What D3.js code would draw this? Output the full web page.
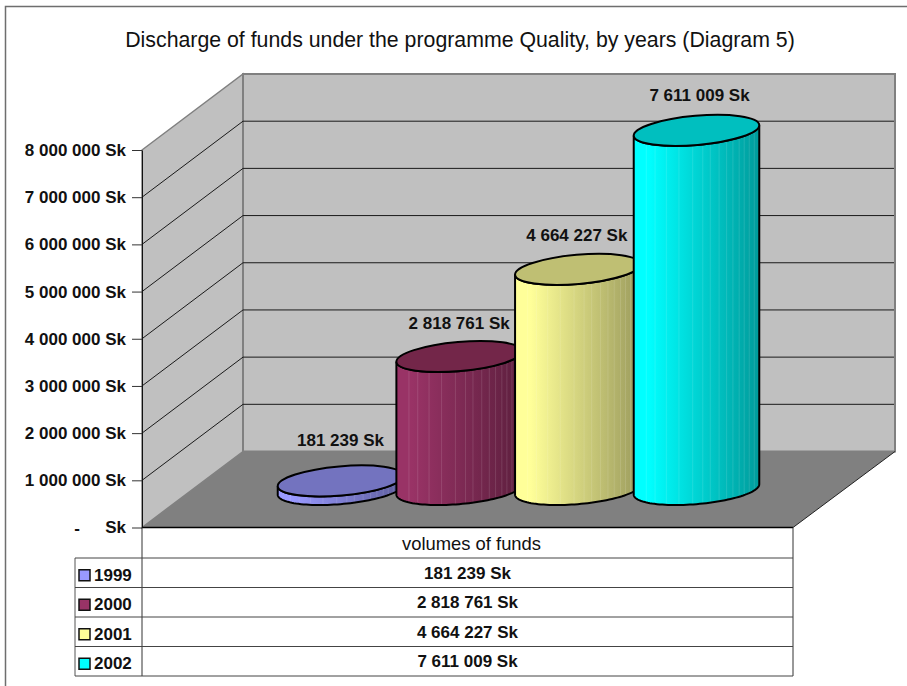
<!DOCTYPE html>
<html><head><meta charset="utf-8">
<script src="https://cdn.jsdelivr.net/npm/d3@7"></script>
<style>html,body{margin:0;padding:0;background:#fff}svg{display:block}text{font-family:"Liberation Sans",Arial,sans-serif;fill:#111}</style>
</head><body><script>
const years=["1999","2000","2001","2002"];
const values=[181239,2818761,4664227,7611009];
const valueLabels=["181 239 Sk","2 818 761 Sk","4 664 227 Sk","7 611 009 Sk"];
const colors=["#9999ff","#993366","#ffff99","#00ffff"];
const topColors=["#7373bf","#732649","#bfbf73","#00bfbf"];
const axisTicks=[0,1e6,2e6,3e6,4e6,5e6,6e6,7e6,8e6];
const tickLabels=["Sk","1 000 000 Sk","2 000 000 Sk","3 000 000 Sk","4 000 000 Sk","5 000 000 Sk","6 000 000 Sk","7 000 000 Sk","8 000 000 Sk"];
const titleText="Discharge of funds under the programme Quality, by years (Diagram 5)";
const seriesName="volumes of funds";

const W=907,H=686,X0=142,X1=793,DX=101,DY=76,FS=17;
const svg=d3.select("body").append("svg").attr("width",W).attr("height",H);
const y=d3.scaleLinear().domain([0,8e6]).range([527.5,150]);
const xp=d3.scalePoint().domain(years).range([340.5,696.5]);

// frame
svg.append("path").attr("d","M5.5,686V6.5H907").attr("fill","none").attr("stroke","#6e6e6e").attr("stroke-width",1.5);
svg.append("text").attr("x",460).attr("y",47).attr("text-anchor","middle").attr("font-size",21.3).attr("fill","#222").text(titleText);

// walls and floor
const poly=p=>"M"+p.map(d=>d.join(",")).join("L")+"Z";
const yTop=y(8e6),yBot=y(0);
svg.append("path").attr("d",poly([[X0,yTop],[X0+DX,yTop-DY],[X0+DX,yBot-DY],[X0,yBot]])).attr("fill","#c0c0c0").attr("stroke","#808080").attr("stroke-width",1.5);
svg.append("path").attr("d",poly([[X0+DX,yTop-DY],[X1+DX+1,yTop-DY],[X1+DX+1,yBot-DY],[X0+DX,yBot-DY]])).attr("fill","#c0c0c0").attr("stroke","#808080").attr("stroke-width",2);
svg.append("path").attr("d",poly([[X0,yBot],[X0+DX,yBot-DY],[X1+DX+1,yBot-DY],[X1,yBot]])).attr("fill","#808080");
svg.append("path").attr("d",`M${X1},${yBot}L${X1+DX+1},${yBot-DY}`).attr("stroke","#222").attr("fill","none");

// gridlines
const grid=svg.append("g").attr("fill","none").attr("stroke","#1a1a1a").attr("stroke-width",1);
axisTicks.slice(1,-1).forEach(t=>{
  grid.append("path").attr("d",`M${X0},${y(t)}L${X0+DX},${y(t)-DY}H${X1+DX}`);
});

// axis
const axis=d3.axisLeft(y).tickValues(axisTicks).tickSize(10).tickSizeOuter(0).tickPadding(6).tickFormat((d,i)=>tickLabels[i]);
const ag=svg.append("g").attr("transform",`translate(${X0},0)`).call(axis);
ag.select(".domain").attr("stroke","#111").attr("stroke-width",1);
ag.selectAll(".tick line").attr("stroke","#333");
ag.selectAll(".tick text").attr("font-size",FS).attr("font-weight","bold").attr("font-family",'"Liberation Sans",Arial,sans-serif').attr("fill","#111");
ag.append("text").attr("x",-65).attr("y",y(0)+6).attr("font-size",FS).attr("font-weight","bold").attr("text-anchor","middle").attr("fill","#111").text("-");

// cylinders
const defs=svg.append("defs");
const A=63,B=14.6,ANG=-5,th=ANG*Math.PI/180;
const tLeft=Math.PI-Math.atan2(B*Math.sin(th),A*Math.cos(th));
const ellipsePt=(cx,cy,t)=>[cx+A*Math.cos(t)*Math.cos(th)-B*Math.sin(t)*Math.sin(th),cy+A*Math.cos(t)*Math.sin(th)+B*Math.sin(t)*Math.cos(th)];
const line=d3.line();
const N=60;
const baseCy=y(0)-DY/2;
years.forEach((yr,i)=>{
  const g=defs.append("linearGradient").attr("id","g"+i);
  g.append("stop").attr("offset","0").attr("stop-color",colors[i]);
  g.append("stop").attr("offset","0.12").attr("stop-color",colors[i]);
  g.append("stop").attr("offset","1").attr("stop-color",d3.color(colors[i]).darker(1.4));
});
const stripeFracs=[.1,.17,.26,.36,.47,.55,.61,.68,.74,.79,.84,.88,.92,.96];
years.forEach((yr,i)=>{
  const cx=xp(yr),h=y(0)-y(values[i]),cyT=baseCy-h,cyB=baseCy;
  // bottom half: from left extreme through the front to the right extreme
  const front=d3.range(N+1).map(k=>ellipsePt(cx,cyB,tLeft-Math.PI*k/N));
  // top, front rim from right extreme back to left extreme
  const rim=d3.range(N+1).map(k=>ellipsePt(cx,cyT,tLeft-Math.PI+Math.PI*k/N));
  const d=line(front.concat(rim))+"Z";
  const L=front[0][0],R=front[N][0];
  const c=svg.append("g");
  c.append("path").attr("d",d).attr("fill",`url(#g${i})`);
  defs.append("clipPath").attr("id","c"+i).append("path").attr("d",d);
  c.append("g").attr("clip-path",`url(#c${i})`).selectAll("line").data(stripeFracs).join("line")
    .attr("x1",f=>L+f*(R-L)).attr("x2",f=>L+f*(R-L)).attr("y1",cyT-30).attr("y2",cyB+30)
    .attr("stroke","#fff").attr("stroke-opacity",.12);
  c.append("path").attr("d",d).attr("fill","none").attr("stroke","#000").attr("stroke-width",2);
  c.append("ellipse").attr("cx",cx).attr("cy",cyT).attr("rx",A).attr("ry",B)
    .attr("transform",`rotate(${ANG} ${cx} ${cyT})`).attr("fill",topColors[i]).attr("stroke","#000").attr("stroke-width",2);
});
// value labels
const labelShift=[41,33,34,35], labelDx=[0,0,-1,3];
svg.append("g").selectAll("text").data(years).join("text")
  .attr("x",(d,i)=>xp(d)+labelDx[i])
  .attr("y",(d,i)=>baseCy-(y(0)-y(values[i]))-labelShift[i]+6)
  .attr("text-anchor","middle").attr("font-size",FS).attr("font-weight","bold")
  .text((d,i)=>valueLabels[i]);

// data table
const T=svg.append("g");
const rowY=d3.scaleLinear().domain([0,4]).range([558,676]);
const TL=75;
T.append("path").attr("d",`M${X0},${yBot}H${X1}`).attr("stroke","#000").attr("stroke-width",1.5);
T.append("path").attr("d",`M${X0},${yBot}V676M${X1},${yBot}V676`).attr("stroke","#333").attr("fill","none");
T.append("path").attr("d",`M${TL},558V676`).attr("stroke","#555").attr("fill","none");
d3.range(5).forEach(r=>T.append("path").attr("d",`M${TL},${rowY(r)}H${X1}`).attr("stroke","#444"));
T.append("text").attr("x",(X0+X1)/2+4).attr("y",550).attr("text-anchor","middle").attr("font-size",18.4).attr("fill","#222").text(seriesName);
years.forEach((yr,i)=>{
  const my=(rowY(i)+rowY(i+1))/2;
  T.append("rect").attr("x",79).attr("y",my-3).attr("width",11).attr("height",11).attr("fill",colors[i]).attr("stroke","#111").attr("stroke-width",1.5);
  T.append("text").attr("x",94).attr("y",my+8).attr("font-size",FS).attr("font-weight","bold").text(yr);
  T.append("text").attr("x",(X0+X1)/2).attr("y",my+6).attr("text-anchor","middle").attr("font-size",FS).attr("font-weight","bold").text(valueLabels[i]);
});
</script></body></html>
